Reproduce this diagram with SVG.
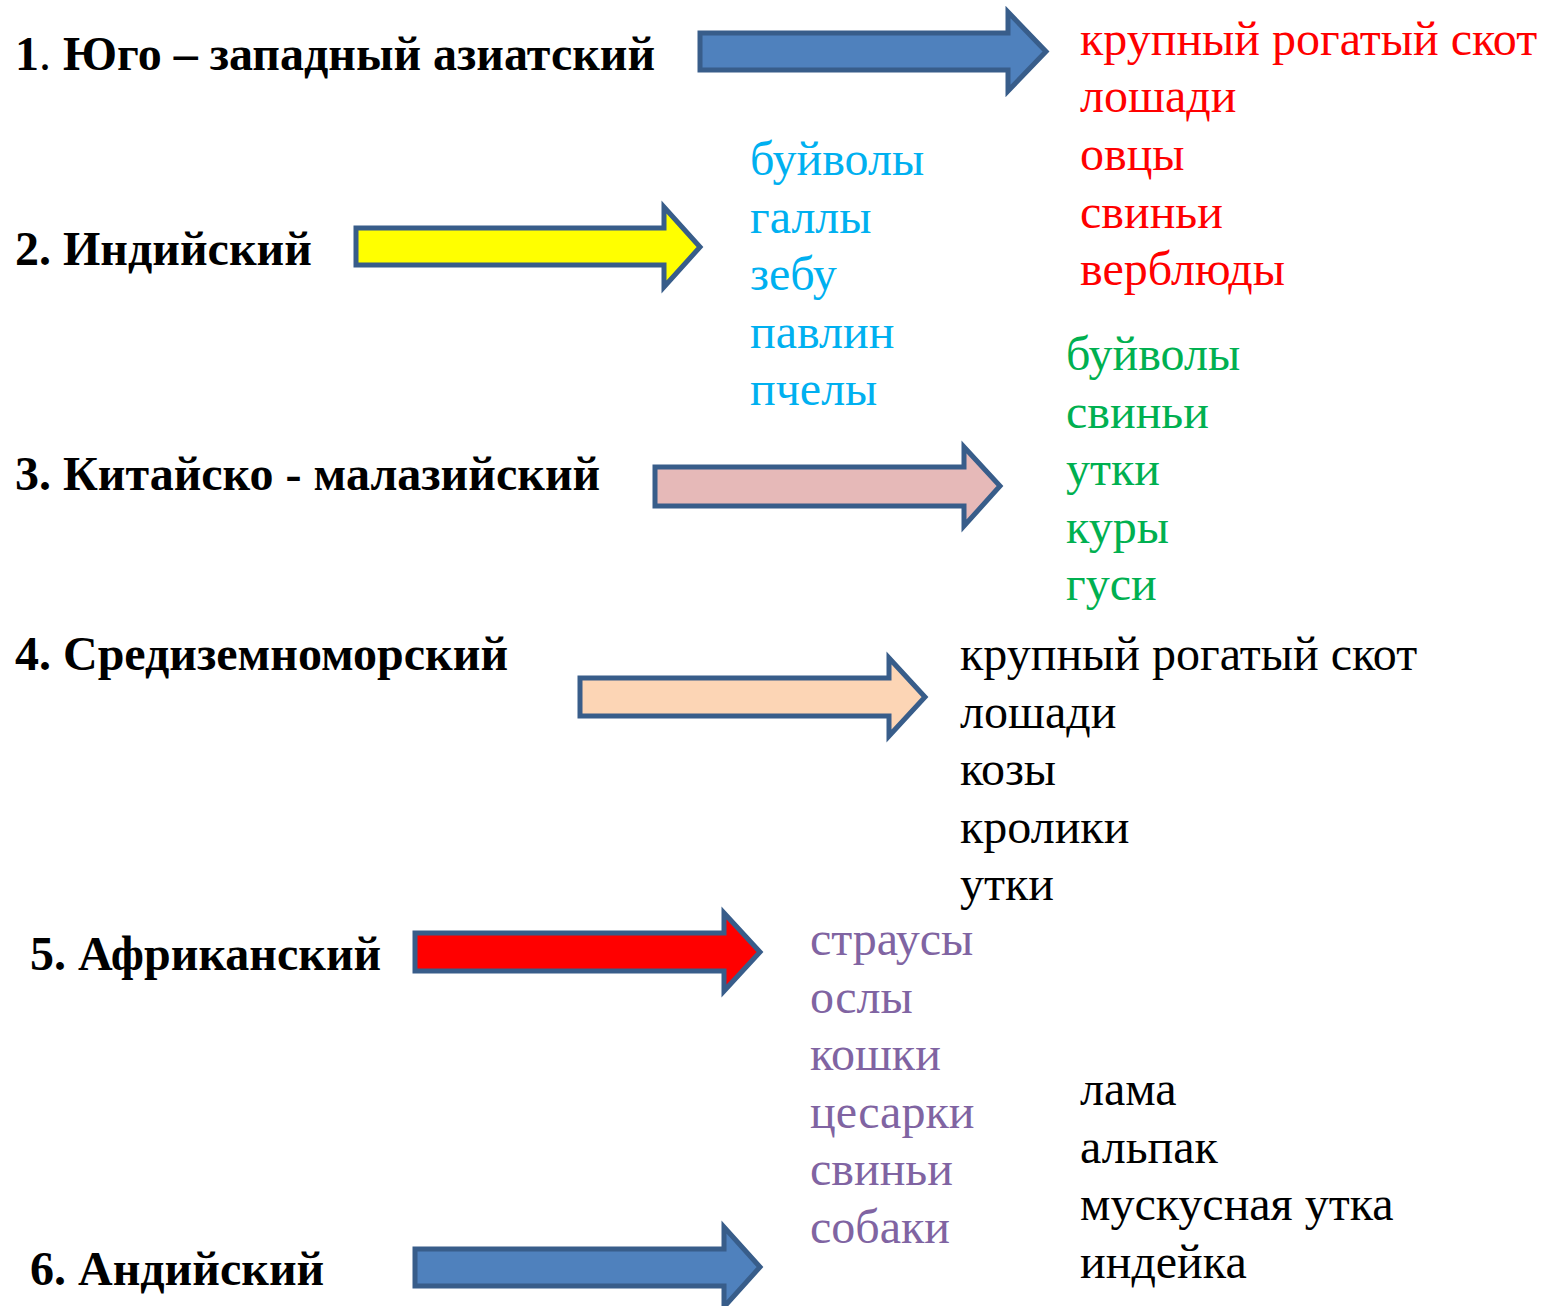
<svg xmlns="http://www.w3.org/2000/svg" width="1544" height="1306" viewBox="0 0 1544 1306">
<style>
  text { font-family: "Liberation Serif", "Times New Roman", serif; font-size: 48px; }
  .h { font-weight: bold; fill: #000; }
  .arrow { stroke: #385D8A; stroke-width: 5; stroke-linejoin: miter; }
  .red { fill: #FF0000; }
  .blue { fill: #00B0F0; }
  .green { fill: #00B050; }
  .purple { fill: #8064A2; }
  .black { fill: #000000; }
</style>
<rect width="1544" height="1306" fill="#fff"/>

<g id="node-1">
  <text class="h" x="15" y="70">1<tspan font-weight="normal">.</tspan> Юго – западный азиатский</text>
</g>
<g id="node-2">
  <text class="h" x="15" y="265">2. Индийский</text>
</g>
<g id="node-3">
  <text class="h" x="15" y="490">3. Китайско - малазийский</text>
</g>
<g id="node-4">
  <text class="h" x="15" y="670">4. Средиземноморский</text>
</g>
<g id="node-5">
  <text class="h" x="30" y="970">5. Африканский</text>
</g>
<g id="node-6">
  <text class="h" x="30" y="1285">6. Андийский</text>
</g>

<g id="list-1" class="red">
  <text x="1080" y="55">крупный рогатый скот</text>
  <text x="1080" y="112">лошади</text>
  <text x="1080" y="170">овцы</text>
  <text x="1080" y="228">свиньи</text>
  <text x="1080" y="285">верблюды</text>
</g>
<g id="list-2" class="blue">
  <text x="750" y="175">буйволы</text>
  <text x="750" y="233">галлы</text>
  <text x="750" y="290">зебу</text>
  <text x="750" y="348">павлин</text>
  <text x="750" y="405">пчелы</text>
</g>
<g id="list-3" class="green">
  <text x="1066" y="370">буйволы</text>
  <text x="1066" y="428">свиньи</text>
  <text x="1066" y="485">утки</text>
  <text x="1066" y="543">куры</text>
  <text x="1066" y="600">гуси</text>
</g>
<g id="list-4" class="black">
  <text x="960" y="670">крупный рогатый скот</text>
  <text x="960" y="728">лошади</text>
  <text x="960" y="785">козы</text>
  <text x="960" y="843">кролики</text>
  <text x="960" y="900">утки</text>
</g>
<g id="list-5" class="purple">
  <text x="810" y="955">страусы</text>
  <text x="810" y="1013">ослы</text>
  <text x="810" y="1070">кошки</text>
  <text x="810" y="1128">цесарки</text>
  <text x="810" y="1185">свиньи</text>
  <text x="810" y="1243">собаки</text>
</g>
<g id="list-6" class="black">
  <text x="1080" y="1105">лама</text>
  <text x="1080" y="1163">альпак</text>
  <text x="1080" y="1220">мускусная утка</text>
  <text x="1080" y="1278">индейка</text>
</g>

<g id="connectors">
  <path class="arrow" fill="#4F81BD" d="M700,33 H1008 V12 L1046,51.5 L1008,91 V70 H700 Z"/>
  <path class="arrow" fill="#FFFF00" d="M356,228 H664 V207 L700,247 L664,287 V265 H356 Z"/>
  <path class="arrow" fill="#E6B9B8" d="M655,467 H964 V447 L1000,486 L964,526 V506 H655 Z"/>
  <path class="arrow" fill="#FCD5B5" d="M580,678 H889 V658 L925,697 L889,736 V716 H580 Z"/>
  <path class="arrow" fill="#FF0000" d="M415,933 H724 V913 L760,952 L724,991 V971 H415 Z"/>
  <path class="arrow" fill="#4F81BD" d="M415,1249 H724 V1227 L760,1267 L724,1307 V1286 H415 Z"/>
</g>
</svg>
